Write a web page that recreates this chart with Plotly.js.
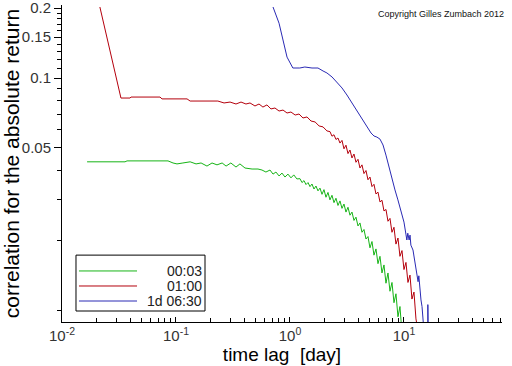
<!DOCTYPE html>
<html><head><meta charset="utf-8">
<script src="https://cdn.plot.ly/plotly-3.0.1.min.js"></script>
<style>html,body{margin:0;padding:0;background:#fff;}#chart{width:512px;height:366px;}</style>
</head><body><div id="chart"></div>
<script>
const seriesNames = ['00:03', '01:00', '1d 06:30'];

const greenX = [0.0166,0.0264,0.0357,0.0372,0.0592,0.0851,0.0942,0.102,0.115,0.133,0.150,0.166,0.187,0.207,0.229,0.254,0.275,0.303,0.336,0.364,0.403,0.465,0.524,0.568,0.615,0.668,0.710,0.753,0.802,0.851,0.904,0.960,1.02,1.08,1.15,
  1.224,1.274,1.327,1.382,1.439,1.498,1.560,1.624,1.691,1.760,1.833,1.909,1.987,2.069,2.154,2.243,2.336,2.432,2.532,2.637,2.745,2.858,2.976,3.099,3.227,3.360,3.499,3.643,3.793,3.950,4.112,4.282,4.458,4.642,4.833,5.033,5.240,5.456,5.681,5.915,6.159,6.412,6.677,6.952,7.238,7.537,7.847,8.171,8.507,8.858,9.223,9.604];
const greenY = [0.0436,0.0436,0.0436,0.0440,0.0440,0.0440,0.0431,0.0427,0.0431,0.0436,0.0427,0.0431,0.0418,0.0431,0.0423,0.0431,0.0418,0.0431,0.0414,0.0427,0.0410,0.0406,0.0406,0.0402,0.0394,0.0402,0.0386,0.0394,0.0379,0.0390,0.0375,0.0386,0.0372,0.0383,0.0368,
  0.0369,0.0355,0.0362,0.0348,0.0355,0.0341,0.0350,0.0333,0.0343,0.0327,0.0336,0.0316,0.0331,0.0307,0.0322,0.0299,0.0313,0.0291,0.0304,0.0283,0.0296,0.0275,0.0287,0.0265,0.0278,0.0257,0.0265,0.0244,0.0252,0.0231,0.0238,0.0217,0.0223,0.0203,0.0208,0.0186,0.0198,0.0173,0.0184,0.0159,0.0171,0.0145,0.0157,0.0131,0.0145,0.0121,0.0132,0.0108,0.0118,0.0094,0.0104,0.0080];

const redX = [0.0215,0.0329,0.0395,0.0403,0.0724,0.0754,0.125,0.133,0.233,0.264,0.298,0.336,0.372,0.411,0.446,0.493,0.535,0.579,0.628,0.681,0.738,0.802,0.869,0.942,1.02,1.11,1.20,1.30,1.41,1.53,1.66,1.80,1.95,2.11,
  2.243,2.336,2.432,2.532,2.637,2.745,2.858,2.976,3.099,3.227,3.360,3.499,3.643,3.793,3.950,4.112,4.282,4.458,4.642,4.833,5.033,5.240,5.456,5.681,5.915,6.159,6.412,6.677,6.952,7.238,7.537,7.847,8.171,8.507,8.858,9.223,9.604,10.0,10.41,10.84,11.29,11.75,12.24,12.74,13.27];
const redY = [0.202,0.0820,0.0820,0.0828,0.0828,0.0813,0.0813,0.0796,0.0796,0.0781,0.0788,0.0773,0.0788,0.0773,0.0781,0.0758,0.0773,0.0750,0.0766,0.0736,0.0743,0.0721,0.0728,0.0707,0.0714,0.0693,0.0700,0.0673,0.0680,0.0653,0.0647,0.0622,0.0616,0.0592,
  0.0588,0.0562,0.0570,0.0544,0.0552,0.0525,0.0539,0.0496,0.0514,0.0473,0.0490,0.0453,0.0471,0.0434,0.0447,0.0410,0.0423,0.0388,0.0400,0.0365,0.0375,0.0341,0.0349,0.0317,0.0323,0.0293,0.0298,0.0268,0.0272,0.0242,0.0249,0.0217,0.0228,0.0193,0.0205,0.0171,0.0181,0.0150,0.0161,0.0132,0.0142,0.0112,0.0120,0.0092,0.0082];

const blueX = [0.710,0.802,0.942,1.06,1.22,1.35,1.56,1.76,1.95,2.11,2.34,2.58,2.86,3.16,3.50,3.87,4.28,4.74,5.14,5.46,5.79,6.16,6.55,6.95,7.38,7.85,8.34,8.85,9.41,10.0,10.4,10.6,10.8,11.1,11.3,11.5,12.0,12.5,13.0,13.3,13.5,13.8,14.1,14.4,14.7,16.2,16.2,16.5];
const blueY = [0.202,0.172,0.123,0.1104,0.1104,0.1115,0.1104,0.1104,0.1072,0.1051,0.1010,0.0961,0.0906,0.0845,0.0781,0.0714,0.0660,0.0616,0.0580,0.0563,0.0557,0.0546,0.0515,0.0466,0.0414,0.0372,0.0330,0.0299,0.0270,0.0240,0.0213,0.0201,0.0215,0.0201,0.0211,0.0191,0.0182,0.0162,0.0146,0.0133,0.0141,0.0122,0.0111,0.0104,0.0085,0.005,0.0106,0.005];

const xTickVals = [0.01, 0.1, 1, 10];
const xTickText = ['10<sup>-2</sup>', '10<sup>-1</sup>', '10<sup>0</sup>', '10<sup>1</sup>'];
const xMinorVals = [0.02,0.03,0.04,0.05,0.06,0.07,0.08,0.09,0.2,0.3,0.4,0.5,0.6,0.7,0.8,0.9,2,3,4,5,6,7,8,9,20,30,40,50,60,70];
const yTickVals = [0.05, 0.1, 0.15, 0.2];
const yTickText = ['0.05', '0.1', '0.15', '0.2'];
const yMinorVals = [0.01,0.02,0.03,0.04,0.06,0.07,0.08,0.09,0.11,0.12,0.13,0.14,0.16,0.17,0.18,0.19];

const colors = ['#16b416', '#b4000c', '#2a2ab4'];
const FONT = 'Liberation Sans, Arial, sans-serif';

const traces = [
  {x: greenX, y: greenY, name: seriesNames[0], mode: 'lines', line: {color: colors[0], width: 1}},
  {x: redX, y: redY, name: seriesNames[1], mode: 'lines', line: {color: colors[1], width: 1}},
  {x: blueX, y: blueY, name: seriesNames[2], mode: 'lines', line: {color: colors[2], width: 1}}
];

// legend (drawn manually, paper coordinates)
const legendRowsY = [0.161, 0.1136, 0.0662];
const shapes = [
  {type: 'rect', xref: 'paper', yref: 'paper', x0: 0.0318, x1: 0.325, y0: 0.0347, y1: 0.211, line: {color: '#000', width: 1}, fillcolor: 'rgba(0,0,0,0)'}
];
const annotations = [
  {xref: 'paper', yref: 'paper', x: 1.009, y: 0.972, xanchor: 'right', yanchor: 'middle', showarrow: false,
   text: 'Copyright Gilles Zumbach 2012', font: {family: FONT, size: 9, color: '#111'}}
];
seriesNames.forEach((n, i) => {
  shapes.push({type: 'line', xref: 'paper', yref: 'paper', x0: 0.0386, x1: 0.1705, y0: legendRowsY[i], y1: legendRowsY[i], line: {color: colors[i], width: 1}});
  annotations.push({xref: 'paper', yref: 'paper', x: 0.3227, y: legendRowsY[i], xanchor: 'right', yanchor: 'middle', showarrow: false,
    text: n, font: {family: FONT, size: 14, color: '#222'}});
});

const layout = {
  width: 512, height: 366,
  margin: {l: 62, r: 10, t: 5, b: 44},
  paper_bgcolor: '#fff', plot_bgcolor: '#fff',
  showlegend: false,
  font: {family: FONT, color: '#000'},
  xaxis: {
    type: 'log', range: [-2, 1.86], showgrid: false, zeroline: false,
    showline: true, linecolor: '#000', linewidth: 1,
    tickmode: 'array', tickvals: xTickVals, ticktext: xTickText,
    ticks: 'inside', ticklen: 5, tickcolor: '#000', ticklabeloverflow: 'allow',
    minor: {tickvals: xMinorVals, ticks: 'inside', ticklen: 4, tickcolor: '#000', showgrid: false},
    tickfont: {family: FONT, size: 15, color: '#333'},
    title: {text: 'time lag\u00a0\u00a0[day]', font: {family: FONT, size: 19, color: '#000'}, standoff: 3}
  },
  yaxis: {
    type: 'log', range: [-2.0495, -0.686], showgrid: false, zeroline: false,
    showline: true, linecolor: '#000', linewidth: 1,
    tickmode: 'array', tickvals: yTickVals, ticktext: yTickText,
    ticks: 'outside', ticklen: 7, tickcolor: '#000', ticklabeloverflow: 'allow',
    minor: {tickvals: yMinorVals, ticks: 'outside', ticklen: 4, tickcolor: '#000', showgrid: false},
    tickfont: {family: FONT, size: 15, color: '#333'},
    title: {text: 'correlation for the absolute return', font: {family: FONT, size: 21, color: '#000'}, standoff: 1}
  },
  shapes: shapes,
  annotations: annotations
};

Plotly.newPlot('chart', traces, layout, {displayModeBar: false, staticPlot: true});
</script>
</body></html>
